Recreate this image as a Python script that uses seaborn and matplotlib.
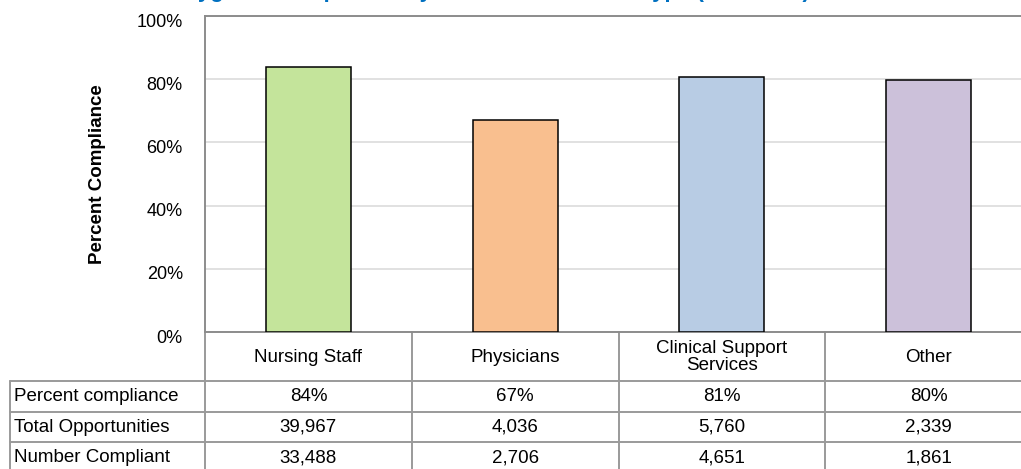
import matplotlib

matplotlib.use("Agg")
import matplotlib.pyplot as plt  # noqa: E402
import matplotlib.transforms as mtransforms  # noqa: E402
import pandas as pd  # noqa: E402
import seaborn as sns  # noqa: E402

# --------------------------------------------------------------------------- #
# Data                                                  #
# --------------------------------------------------------------------------- #
categories = ["Nursing Staff", "Physicians", "Clinical Support\nServices", "Other"]
pct_compliance = [83.8, 67.0, 80.7, 79.6]
pct_labels = ["84%", "67%", "81%", "80%"]
total_opps = [39967, 4036, 5760, 2339]
num_compliant = [33488, 2706, 4651, 1861]
row_labels = ["Percent compliance", "Total Opportunities", "Number Compliant"]
bar_colors = ["#C4E49B", "#F9BF8F", "#B8CCE4", "#CCC1DA"]

title = "Hand Hygiene Compliance by Healthcare Worker Type (Jan - Dec)"

sns.set_style("white")
plt.rcParams["font.family"] = ["Liberation Sans", "DejaVu Sans"]
for k in ["text.color", "axes.labelcolor", "xtick.color", "ytick.color"]:
    plt.rcParams[k] = "black"

W, H = 1021, 469
fig = plt.figure(figsize=(W / 100, H / 100), dpi=100)


def fy(py):
    return 1 - py / H


ax = fig.add_axes([205 / W, fy(332), (1032 - 205) / W, 316 / H])

df = pd.DataFrame({"cat": categories, "pct": pct_compliance})
sns.barplot(data=df, x="cat", y="pct", hue="cat", palette=bar_colors, legend=False,
            saturation=1, width=0.41, edgecolor="black", linewidth=1.1, ax=ax, zorder=3)

ax.set_xlim(-0.5, 3.5)
ax.set_ylim(0, 100)
ax.set_yticks(range(0, 101, 20))
ax.set_yticklabels([f"{v}%" for v in range(0, 101, 20)], fontsize=13)
ax.set_xticks([])
ax.set_xlabel("")
ax.set_ylabel("Percent Compliance", fontsize=13.5, fontweight="bold", labelpad=22)
ax.tick_params(axis="y", length=0, pad=16)
off = mtransforms.ScaledTranslation(0, -3 / 72, fig.dpi_scale_trans)
for lab in ax.get_yticklabels():
    lab.set_transform(lab.get_transform() + off)
ax.yaxis.grid(True, color="#D9D9D9", lw=1.1, zorder=0)
for side in ["left", "top", "bottom"]:
    ax.spines[side].set_color("#8C8C8C")
    ax.spines[side].set_linewidth(1.4)
ax.spines["right"].set_visible(False)

# --------------------------------------------------------------------------- #
# Data table under the plot                                                    #
# --------------------------------------------------------------------------- #
tr = mtransforms.blended_transform_factory(ax.transData, fig.transFigure)
tc = "#9A9A9A"
row_y = [381, 412, 442, 473]
x_left = ax.transData.inverted().transform((10, 0))[0]
for py in row_y:
    ax.plot([x_left, 3.5], [fy(py)] * 2, color=tc, lw=1.4, transform=tr, clip_on=False)
ax.plot([x_left, x_left], [fy(381), fy(473)], color=tc, lw=1.4, transform=tr, clip_on=False)
for xb in [-0.5, 0.5, 1.5, 2.5]:
    ax.plot([xb, xb], [fy(332), fy(473)], color=tc, lw=1.4, transform=tr, clip_on=False)

fs = 13.5
for i, cat in enumerate(categories):
    ax.text(i, fy(357), cat, transform=tr, ha="center", va="center", fontsize=fs,
            linespacing=0.95)
    vals = [pct_labels[i], f"{total_opps[i]:,}", f"{num_compliant[i]:,}"]
    for j, v in enumerate(vals):
        ax.text(i, fy((row_y[j] + row_y[j + 1]) / 2), v, transform=tr,
                ha="center", va="center", fontsize=fs)

for j, lab in enumerate(row_labels):
    fig.text(14 / W, fy((row_y[j] + row_y[j + 1]) / 2), lab, ha="left", va="center",
             fontsize=fs)

# title sits mostly above the canvas, as in the reference crop
fig.text(120 / W, fy(-3.5), title, ha="left", va="baseline", fontsize=16,
         fontweight="bold", color="#0070C0")

fig.savefig("out.png", dpi=100)
